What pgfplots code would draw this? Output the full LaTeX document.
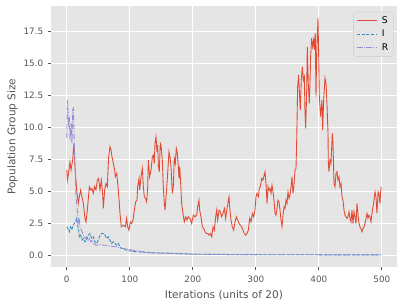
\documentclass[border=0pt]{standalone}
\usepackage{fontspec}
\setmainfont{DejaVu Sans}
\usepackage{pgfplots}
\pgfplotsset{compat=1.18}
\definecolor{ggbg}{HTML}{E5E5E5}
\definecolor{ggtext}{HTML}{555555}
\definecolor{cS}{HTML}{E24A33}
\definecolor{cI}{HTML}{348ABD}
\definecolor{cR}{HTML}{988ED5}
\begin{document}
\begin{tikzpicture}
\begin{axis}[
 scale only axis, width=393.4pt, height=297pt,
 xmin=-24.95, xmax=523.95, ymin=-0.93, ymax=19.52,
 axis background/.style={fill=ggbg},
 axis line style={draw=none},
 grid=major, major grid style={white, line width=0.8pt},
 xtick={0,100,200,300,400,500}, ytick={0,2.5,5,7.5,10,12.5,15,17.5},
 /pgf/number format/assume math mode=true,
 y tick label style={/pgf/number format/.cd, fixed, fixed zerofill, precision=1, assume math mode=true, /tikz/.cd},
 tick align=outside, tick pos=left, major tick length=3.5pt,
 xticklabel shift=3pt, yticklabel shift=2pt,
 tick style={ggtext, line width=0.8pt},
 ticklabel style={font=\fontsize{10}{12}\selectfont, text=ggtext},
 xlabel={Iterations (units of 20)}, ylabel={Population Group Size},
 xlabel style={yshift=-2pt},
 label style={font=\fontsize{12}{14}\selectfont, text=ggtext},
 legend style={at={(1,1)}, anchor=north east, xshift=-4pt, yshift=-6.5pt, fill=ggbg, draw=black!20, rounded corners=2pt, font=\fontsize{10.5}{12}\selectfont, row sep=2pt, inner sep=3.5pt},
 legend cell align=left,
 legend image code/.code={\draw[#1] (0pt,0pt) -- (23pt,0pt); \path (26pt,0pt);},
]
\addplot[color=cS, draw=cS, line width=1pt] coordinates {
(0,6.67)(1,5.88)(3,6.5)(5,7.32)(6.7,6.67)(9.3,7.45)(11.4,8.76)(13,6.93)(15.7,5.10)(18.3,4.05)(19.9,4.58)(22,5.10)(24.1,4.58)(26.3,4.05)(28.9,2.88)(30.5,2.61)(32.6,3.53)(35.8,5.36)(37.9,5.10)(40,5.23)(42.1,4.84)(44.2,5.36)(46.3,5.10)(48.5,5.88)(50.6,6.01)(52.7,5.10)(54.8,5.88)(56.9,4.84)(58,3.66)(60.1,5.10)(62.2,5.62)(64.3,5.36)(66.4,7.71)(68.6,8.50)(70.2,8.24)(71.7,7.71)(73.9,7.19)(76,6.67)(77,6.15)(79.2,6.41)(81.3,5.36)(83.4,4.05)(84.4,3.27)(86.6,2.22)(89.7,2.35)(92.9,2.22)(95,2.9)(96.6,2.22)(98.7,1.96)(100.8,2.61)(103,2.49)(105.1,2.75)(107.2,3.53)(109.3,4.18)(111.4,4.31)(112.5,5.36)(114.6,6.01)(115.7,5.10)(117.8,6.14)(119.9,6.80)(121.5,5.36)(123.1,4.58)(125.2,4.44)(126.8,4.18)(128.4,5.36)(129.4,7.45)(131.5,6.14)(133.7,6.67)(135.8,7.71)(137.4,7.84)(138.9,7.19)(140,8.76)(141.6,9.28)(143.2,8.10)(144.2,8.63)(145.3,7.06)(146.8,6.53)(148.4,8.76)(149.5,8.63)(151.6,7.45)(153.2,5.36)(154.8,4.05)(155.9,3.53)(158,4.84)(160.1,6.41)(162.2,8.10)(163.8,7.71)(165.4,6.93)(167.5,4.84)(169.1,5.36)(170.6,7.58)(172.2,7.19)(173.8,8.37)(175.4,7.98)(177,6.93)(178.1,6.01)(179.2,6.93)(180.8,5.55)(182.3,4.05)(184.4,3.27)(186.5,2.61)(188.7,3.01)(190.8,2.75)(192.9,3.01)(195.6,2.88)(198.2,2.49)(200.8,3.14)(203.5,3.0)(206.1,3.14)(207.7,3.79)(209.8,4.31)(210.9,3.53)(213,3.01)(215.1,2.22)(217.3,2.09)(219.4,1.83)(221.5,1.70)(223.6,1.70)(225.7,1.57)(227.8,1.70)(230,1.44)(232.1,2.22)(234.2,1.96)(236.3,3.01)(237.9,3.53)(239.5,2.75)(241.6,3.53)(243.7,3.40)(245.8,3.01)(247.9,3.27)(250.1,3.66)(252.2,2.88)(253.8,3.53)(255.3,3.92)(256.4,4.31)(257.5,4.58)(258.5,3.79)(260.6,2.75)(262.7,2.22)(264.9,1.96)(267,2.61)(269.1,3.01)(271.2,2.75)(273.3,2.49)(275.4,2.35)(277.6,2.22)(279.7,1.96)(281.8,1.70)(283.9,1.57)(286,1.70)(288.1,1.96)(290.3,2.88)(292.4,2.61)(294.5,3.27)(296.6,3.01)(298.7,3.53)(300.3,4.58)(301.9,4.84)(304,4.58)(305.6,5.23)(307.2,5.36)(309.3,6.01)(311.4,5.88)(313,6.2)(314.6,6.53)(316.2,5.6)(317.8,4.05)(319.4,5.36)(320.9,5.10)(322.5,5.23)(324.1,4.84)(325.7,5.49)(327.3,4.97)(328.9,4.31)(330.5,3.27)(332.1,3.14)(333.6,3.66)(335.2,4.31)(336.8,4.18)(338.4,3.53)(340,2.75)(341.6,2.22)(343.2,3.14)(344.8,3.79)(346.3,3.66)(347.9,4.31)(349.5,4.05)(351.1,4.97)(352.7,4.44)(354.3,4.71)(355.9,5.36)(357.4,6.14)(359,4.84)(360.6,5.49)(362.2,6.67)(363.8,6.80)(364.9,9.02)(366.4,13.20)(368,14.12)(369,12.94)(370.6,11.37)(372.2,13.73)(373.8,14.77)(375.4,13.73)(377,13.99)(378,11.37)(379.1,9.93)(380.7,12.68)(381.7,16.34)(383.3,13.46)(384.9,11.90)(386,13.46)(387,15.56)(388.6,17.0)(390.2,16.34)(391.8,16.86)(392.8,16.08)(394.4,17.39)(395.5,12.42)(396.6,15.82)(398.7,18.56)(399.7,15.82)(400.8,12.42)(402.9,10.85)(405,12.16)(406.1,9.80)(407.7,12.16)(409.8,13.86)(411.4,13.5)(413,11.8)(414.6,9.54)(415.1,7.2)(416.1,6.54)(417.7,7.45)(419.3,7.19)(421.4,9.54)(422.5,8.76)(424.1,5.62)(425.7,5.36)(427.3,6.41)(428.8,6.54)(430.4,5.88)(432,6.14)(433.6,5.36)(435.2,5.62)(436.8,4.58)(438.4,4.31)(440,3.53)(441.5,3.14)(443.1,3.01)(444.7,2.88)(446.3,3.01)(447.9,3.40)(449.5,2.88)(451.1,2.61)(452.6,3.53)(454.2,2.48)(455.8,3.40)(457.4,3.01)(459,2.48)(460.6,4.05)(462.2,3.14)(463.8,2.48)(465.3,2.22)(466.9,2.09)(468.5,1.83)(470.1,2.09)(471.7,2.22)(473.3,2.48)(474.9,2.88)(476.5,3.27)(478,2.88)(479.6,3.14)(481.2,3.01)(482.8,2.61)(484.4,3.27)(486,3.79)(487.6,4.31)(489.2,4.97)(490.7,4.58)(492.3,3.27)(494,4.97)(495.5,4.84)(497.1,4.05)(498.2,4.97)(499,5.36)
};
\addlegendentry{S}
\addplot[color=cI, draw=cI, line width=1pt, dash pattern=on 3.7pt off 1.6pt] coordinates {
(0,2.22)(2,2.09)(4,1.83)(6,2.22)(8,2.0)(10,2.35)(12,2.5)(14,2.6)(15.7,2.88)(17,2.4)(18.8,1.96)(20,1.44)(22,1.57)(24.1,1.18)(26.2,1.31)(28.9,1.05)(31.5,1.18)(34.2,1.57)(36.8,1.70)(39.5,1.31)(42.1,1.44)(44.7,1.05)(47.4,0.92)(50,1.18)(52.7,1.57)(55.3,1.70)(58,1.70)(60.6,1.57)(63.3,1.31)(65.9,1.44)(68.6,1.18)(71.2,0.92)(73.8,1.05)(76.5,0.92)(79.1,0.78)(81.8,0.92)(84.4,0.65)(87.1,0.52)(89.7,0.52)(95,0.39)(100.3,0.34)(105.6,0.29)(116.2,0.26)(126.7,0.21)(137.3,0.18)(163.8,0.16)(200,0.08)(250,0.05)(300,0.04)(400,0.03)(499,0.02)
};
\addlegendentry{I}
\addplot[color=cR, draw=cR, line width=1pt, dash pattern=on 6.4pt off 1.6pt on 1pt off 1.6pt] coordinates {
(0,9.15)(0.8,12.16)(1.9,11.37)(2.95,10.07)(4,10.85)(5.1,9.02)(6.1,9.80)(7.2,10.33)(8.2,8.76)(9.3,11.37)(10.4,11.5)(11.4,9.80)(12.5,7.71)(13.5,6.41)(14.6,4.58)(15.7,4.05)(16.7,3.53)(17.8,3.01)(18.8,2.61)(19.9,2.88)(20.9,2.22)(23.1,1.96)(25.2,1.70)(27.3,1.44)(29.4,1.31)(31.5,1.44)(33.6,1.18)(35.8,1.31)(37.9,1.05)(40,1.18)(42.1,0.92)(47.4,0.78)(52.7,0.86)(58,0.78)(63.3,0.78)(68.6,0.71)(79.1,0.65)(89.7,0.52)(100.3,0.44)(115,0.3)(130,0.22)(150,0.15)(200,0.08)(300,0.04)(499,0.02)
};
\addlegendentry{R}
\end{axis}
\pgfresetboundingbox
\path[use as bounding box] ([shift={(-58.1pt,-43.2pt)}]current axis.south west) rectangle ([shift={(9.2pt,6.8pt)}]current axis.north east);
\end{tikzpicture}
\end{document}
